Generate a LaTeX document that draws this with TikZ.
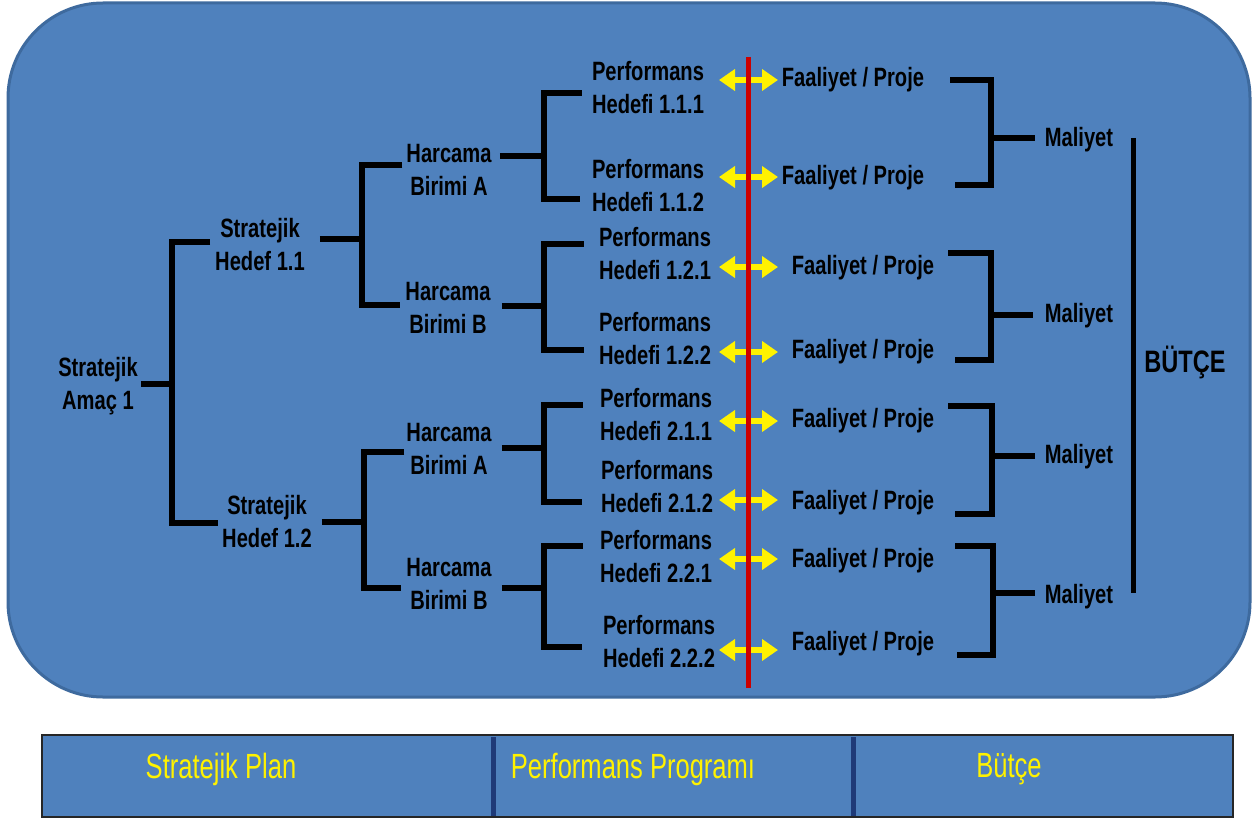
\documentclass[tikz,border=0pt]{standalone}
\usepackage{fontspec}
\setmainfont[FakeStretch=0.76]{Liberation Sans}
\newfontfamily\barfont[FakeStretch=0.73]{Liberation Sans}
\usetikzlibrary{arrows.meta,calc}
\definecolor{boxblue}{HTML}{4F81BD}
\definecolor{boxedge}{HTML}{3E6A9E}
\definecolor{divblue}{HTML}{1F3A78}
\definecolor{redline}{HTML}{CC0000}
\begin{document}
\begin{tikzpicture}[x=1pt,y=-1pt,
  lbl/.style={font=\fontsize{26.5}{33}\selectfont\bfseries, align=center, inner sep=0pt, text=black},
  br/.style={line width=6pt, draw=black, line join=miter, line cap=butt},
  yarr/.style={line width=6pt, draw=yellow, {Triangle[width=21pt,length=16pt,fill=yellow]}-{Triangle[width=21pt,length=16pt,fill=yellow]}},
  bar/.style={font=\barfont\fontsize{35}{38}\selectfont, text=yellow, inner sep=0pt}]
\useasboundingbox (0,0) rectangle (1260,821);
% main panel
\draw[fill=boxblue, draw=boxedge, line width=3pt, rounded corners=95pt] (8,3) rectangle (1250,697);
% bottom bar
\draw[fill=boxblue, draw=black!85, line width=2.5pt] (42,735) rectangle (1233,817);
\coordinate (d1t) at (493,737); \coordinate (d1b) at (493,816);
\coordinate (d2t) at (853,737); \coordinate (d2b) at (853,816);
\draw[divblue, line width=5pt] (d1t) -- (d1b);
\draw[divblue, line width=5pt] (d2t) -- (d2b);
\node[bar] (sp) at (221,769) {Stratejik Plan};
\node[bar] (pp) at (633,769) {Performans Programı};
\node[bar] (bt) at (1009,769) {Bütçe};
% nodes
\node[lbl] (amac) at (98,386) {Stratejik\\Amaç 1};
\node[lbl] (h11) at (260,245) {Stratejik\\Hedef 1.1};
\node[lbl] (h12) at (267,522) {Stratejik\\Hedef 1.2};
\node[lbl] (ha1) at (449,170) {Harcama\\Birimi A};
\node[lbl] (hb1) at (448,308) {Harcama\\Birimi B};
\node[lbl] (ha2) at (449,449) {Harcama\\Birimi A};
\node[lbl] (hb2) at (449,584) {Harcama\\Birimi B};
\node[lbl] (p111) at (648,88) {Performans\\Hedefi 1.1.1};
\node[lbl] (p112) at (648,186) {Performans\\Hedefi 1.1.2};
\node[lbl] (p121) at (655,254) {Performans\\Hedefi 1.2.1};
\node[lbl] (p122) at (655,339) {Performans\\Hedefi 1.2.2};
\node[lbl] (p211) at (656,415) {Performans\\Hedefi 2.1.1};
\node[lbl] (p212) at (657,487) {Performans\\Hedefi 2.1.2};
\node[lbl] (p221) at (656,557) {Performans\\Hedefi 2.2.1};
\node[lbl] (p222) at (659,642) {Performans\\Hedefi 2.2.2};
\node[lbl] (f1) at (853,80) {Faaliyet / Proje};
\node[lbl] (f2) at (853,178) {Faaliyet / Proje};
\node[lbl] (f3) at (863,268) {Faaliyet / Proje};
\node[lbl] (f4) at (863,352) {Faaliyet / Proje};
\node[lbl] (f5) at (863,421) {Faaliyet / Proje};
\node[lbl] (f6) at (863,503) {Faaliyet / Proje};
\node[lbl] (f7) at (863,561) {Faaliyet / Proje};
\node[lbl] (f8) at (863,644) {Faaliyet / Proje};
\node[lbl] (m1) at (1079,140) {Maliyet};
\node[lbl] (m2) at (1079,316) {Maliyet};
\node[lbl] (m3) at (1079,457) {Maliyet};
\node[lbl] (m4) at (1079,597) {Maliyet};
\node[lbl, font=\fontsize{31}{36}\selectfont\bfseries] (butce) at (1185,362) {BÜTÇE};
% junctions
\coordinate (ja) at (172,384);
\coordinate (j11) at (362,239);
\coordinate (j12) at (364,522);
\coordinate (jha1) at (544,156);
\coordinate (jhb1) at (544,306);
\coordinate (jha2) at (544,448);
\coordinate (jhb2) at (544,588);
\coordinate (jm1) at (991,138);
\coordinate (jm2) at (991,315);
\coordinate (jm3) at (992,456);
\coordinate (jm4) at (993,593);
% left brackets
\draw[br] ([shift={(3,-2)}]amac.east) -- (ja);
\draw[br] ([shift={(-5,-3)}]h11.west) -| (ja) |- ([shift={(-4,1)}]h12.west);
\draw[br] ([shift={(15,-6)}]h11.east) -- (j11);
\draw[br] ([shift={(-4,-5)}]ha1.west) -| (j11) |- ([shift={(-5,-3)}]hb1.west);
\draw[br] ([shift={(10,0)}]h12.east) -- (j12);
\draw[br] ([shift={(-2,3)}]ha2.west) -| (j12) |- ([shift={(-5,4)}]hb2.west);
\draw[br] ([shift={(8,-14)}]ha1.east) -- (jha1);
\draw[br] ([shift={(-10,5)}]p111.west) -| (jha1) |- ([shift={(-12,13)}]p112.west);
\draw[br] ([shift={(11,-2)}]hb1.east) -- (jhb1);
\draw[br] ([shift={(-15,-10)}]p121.west) -| (jhb1) |- ([shift={(-15,11)}]p122.west);
\draw[br] ([shift={(10,-1)}]ha2.east) -- (jha2);
\draw[br] ([shift={(-17,-10)}]p211.west) -| (jha2) |- ([shift={(-19,15)}]p212.west);
\draw[br] ([shift={(10,4)}]hb2.east) -- (jhb2);
\draw[br] ([shift={(-17,-11)}]p221.west) -| (jhb2) |- ([shift={(-21,5)}]p222.west);
% right brackets
\draw[br] ([shift={(26,0)}]f1.east) -| (jm1) |- ([shift={(31,7)}]f2.east);
\draw[br] (jm1) -- ([shift={(-10,-2)}]m1.west);
\draw[br] ([shift={(14,-15)}]f3.east) -| (jm2) |- ([shift={(21,8)}]f4.east);
\draw[br] (jm2) -- ([shift={(-12,-1)}]m2.west);
\draw[br] ([shift={(14,-15)}]f5.east) -| (jm3) |- ([shift={(21,11)}]f6.east);
\draw[br] (jm3) -- ([shift={(-10,-1)}]m3.west);
\draw[br] ([shift={(21,-15)}]f7.east) -| (jm4) |- ([shift={(23,11)}]f8.east);
\draw[br] (jm4) -- ([shift={(-10,-4)}]m4.west);
% budget line
\coordinate (btop) at (1133,138);
\coordinate (bbot) at (1133,593);
\draw[line width=5pt, black] (btop) -- (bbot);
% red line and yellow arrows
\coordinate (rl) at (748,57);
\coordinate (rb) at (748,688);
\draw[yarr] ($(rl |- f1.west)+(-29,0)$) -- ($(rl |- f1.west)+(30,0)$);
\draw[yarr] ($(rl |- f2.west)+(-29,-1)$) -- ($(rl |- f2.west)+(30,-1)$);
\draw[yarr] ($(rl |- f3.west)+(-29,-1)$) -- ($(rl |- f3.west)+(30,-1)$);
\draw[yarr] ($(rl |- f4.west)+(-29,0)$) -- ($(rl |- f4.west)+(30,0)$);
\draw[yarr] ($(rl |- f5.west)+(-29,0)$) -- ($(rl |- f5.west)+(30,0)$);
\draw[yarr] ($(rl |- f6.west)+(-29,-3)$) -- ($(rl |- f6.west)+(30,-3)$);
\draw[yarr] ($(rl |- f7.west)+(-29,-2)$) -- ($(rl |- f7.west)+(30,-2)$);
\draw[yarr] ($(rl |- f8.west)+(-29,6)$) -- ($(rl |- f8.west)+(30,6)$);
\draw[redline, line width=5pt] (rl) -- (rb);
\end{tikzpicture}
\end{document}
